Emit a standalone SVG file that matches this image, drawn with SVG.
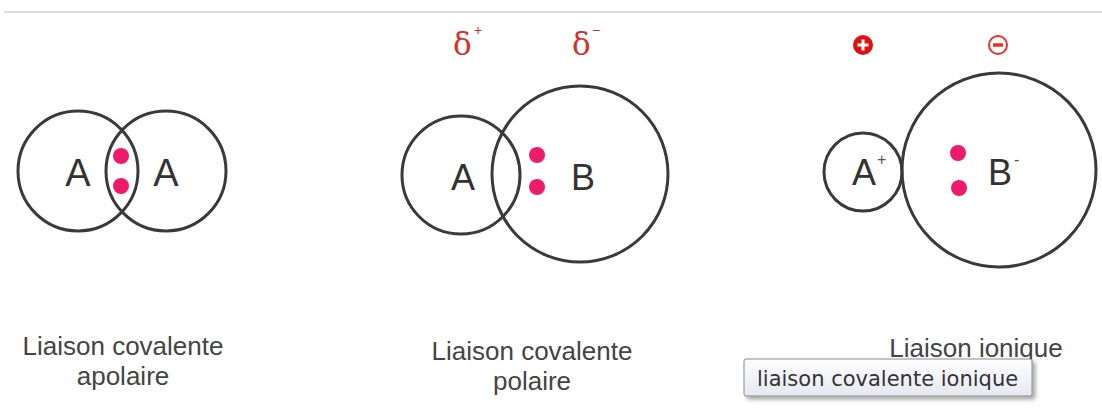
<svg xmlns="http://www.w3.org/2000/svg" width="1102" height="410" viewBox="0 0 1102 410">
<defs>
<style>
.atom{fill:none;stroke:#3a3a3a;stroke-width:3}
.el{fill:#ee1a6a}
.sym{font-family:"Liberation Sans",Arial,sans-serif;fill:#333;text-anchor:middle}
.sup{font-family:"Liberation Sans",Arial,sans-serif;fill:#555;font-size:16px}
.delta{font-family:"DejaVu Serif","Liberation Serif",serif;fill:#d6302a;font-size:31px}
.dsup{font-family:"Liberation Sans",Arial,sans-serif;fill:#d6302a;font-size:14px}
.lbl{font-family:"Liberation Sans",Arial,sans-serif;fill:#444;font-size:26px;text-anchor:middle}
.tip{font-family:"DejaVu Sans","Liberation Sans",sans-serif;fill:#333;font-size:21px}
</style>
<linearGradient id="tipg" x1="0" y1="0" x2="0" y2="1">
<stop offset="0" stop-color="#ffffff"/>
<stop offset="1" stop-color="#e6e8f0"/>
</linearGradient>
<filter id="sh" x="-10%" y="-20%" width="130%" height="160%">
<feDropShadow dx="3" dy="3" stdDeviation="2" flood-color="#000" flood-opacity="0.35"/>
</filter>
</defs>
<rect width="1102" height="410" fill="#fff"/>
<line x1="4" y1="12" x2="1102" y2="12" stroke="#dcdcdc" stroke-width="2"/>

<g id="apolar">
<circle class="atom" cx="78" cy="171" r="60"/>
<circle class="atom" cx="166" cy="171" r="60"/>
<circle class="el" cx="121" cy="156" r="8"/>
<circle class="el" cx="121" cy="186" r="8"/>
<text class="sym" x="78" y="186" font-size="38">A</text>
<text class="sym" x="166" y="186" font-size="38">A</text>
<text class="lbl" x="123" y="355">Liaison covalente</text>
<text class="lbl" x="123" y="385">apolaire</text>
</g>

<g id="polar">
<text class="delta" x="453" y="55">δ</text>
<text class="dsup" x="474" y="35">+</text>
<text class="delta" x="572" y="55">δ</text>
<text class="dsup" x="592" y="35">−</text>
<circle class="atom" cx="461" cy="175" r="59"/>
<circle class="atom" cx="580" cy="174" r="88"/>
<circle class="el" cx="537" cy="155" r="8"/>
<circle class="el" cx="537" cy="187" r="8"/>
<text class="sym" x="463" y="190" font-size="36">A</text>
<text class="sym" x="583" y="190" font-size="36">B</text>
<text class="lbl" x="532" y="360">Liaison covalente</text>
<text class="lbl" x="532" y="390">polaire</text>
</g>

<g id="ionic">
<circle cx="863" cy="45" r="10" fill="#e01010"/>
<path d="M857.5 45h11M863 39.5v11" stroke="#fff" stroke-width="3"/>
<circle cx="998" cy="45" r="9" fill="none" stroke="#e5322a" stroke-width="2"/>
<path d="M993 45h10" stroke="#e5322a" stroke-width="3.5"/>
<circle class="atom" cx="863" cy="172" r="39"/>
<circle class="atom" cx="999" cy="170" r="97"/>
<circle class="el" cx="958" cy="153" r="8"/>
<circle class="el" cx="959" cy="188" r="8"/>
<text class="sym" x="864" y="185" font-size="36">A</text>
<text class="sup" x="877" y="165">+</text>
<text class="sym" x="1000" y="185" font-size="36">B</text>
<text class="sup" x="1014" y="165">-</text>
<text class="lbl" x="976" y="357">Liaison ionique</text>
</g>

<g id="tooltip">
<rect x="744" y="359" width="288" height="37" rx="2" fill="url(#tipg)" stroke="#8a8a8a" stroke-width="1" filter="url(#sh)"/>
<text class="tip" x="757" y="386">liaison covalente ionique</text>
</g>
</svg>
